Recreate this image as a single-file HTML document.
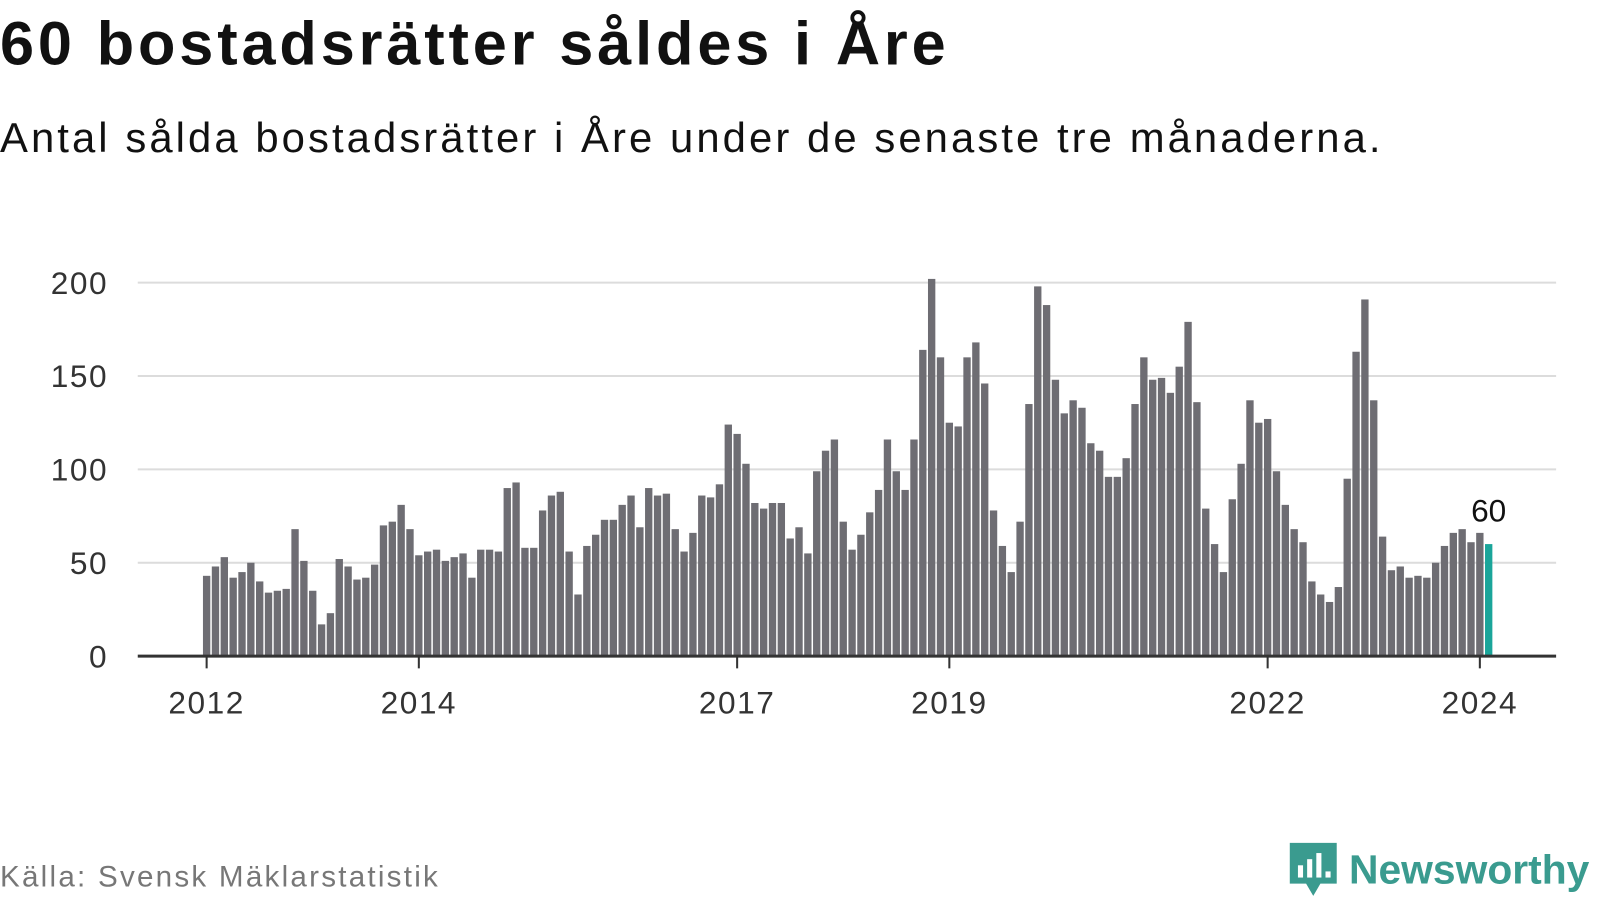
<!DOCTYPE html>
<html><head><meta charset="utf-8"><style>
body{margin:0;background:#fff;width:1600px;height:900px;overflow:hidden;font-family:"Liberation Sans",sans-serif}
#wrap{position:absolute;left:0;top:0;width:1600px;height:900px;transform:scale(1.0204);transform-origin:0 0}
#title{position:absolute;left:0;top:8px;font-size:60px;font-weight:bold;color:#111;margin:0;letter-spacing:3.8px}
#sub{position:absolute;left:0;top:112px;font-size:41px;color:#111;letter-spacing:3.0px}
#src{position:absolute;left:0;top:844px;font-size:29px;color:#777;letter-spacing:2.2px}
#logo{position:absolute;left:1262px;top:824px;display:flex;align-items:center}
#logo span{font-size:40px;font-weight:bold;color:#3a9b8f;margin-left:10px}
svg{position:absolute;left:0;top:0}
</style></head><body><div id="wrap">
<h1 id="title">60 bostadsrätter såldes i Åre</h1>
<div id="sub">Antal sålda bostadsrätter i Åre under de senaste tre månaderna.</div>
<svg id="chart" width="1600" height="900"></svg>
<div id="src">Källa: Svensk Mäklarstatistik</div>
<div id="logo">
<svg style="position:static" width="50" height="58" viewBox="0 0 50 58"><path d="M2 2h46v40H32l-7 12-7-12H2z" fill="#3a9b8f"/><rect x="10" y="24" width="5" height="12" fill="#fff"/><rect x="19" y="18" width="5" height="18" fill="#fff"/><rect x="28" y="12" width="5" height="24" fill="#fff"/><rect x="37" y="30" width="5" height="6" fill="#fff"/></svg>
<span>Newsworthy</span></div>
</div>
<script>
const values=[43,48,53,42,45,50,40,34,35,36,68,51,
35,17,23,52,48,41,42,49,70,72,81,68,
54,56,57,51,53,55,42,57,57,56,90,93,
58,58,78,86,88,56,33,59,65,73,73,81,
86,69,90,86,87,68,56,66,86,85,92,124,
119,103,82,79,82,82,63,69,55,99,110,116,
72,57,65,77,89,116,99,89,116,164,202,160,
125,123,160,168,146,78,59,45,72,135,198,188,
148,130,137,133,114,110,96,96,106,135,160,148,
149,141,155,179,136,79,60,45,84,103,137,125,
127,99,81,68,61,40,33,29,37,95,163,191,
137,64,46,48,42,43,42,50,59,66,68,61,
66,60];
const yTicks=[0,50,100,150,200];
const xTickYears=[2012,2014,2017,2019,2022,2024];
const lastLabel="60";
const svg=document.getElementById('chart');const NS='http://www.w3.org/2000/svg';
const x0=202.5,step=8.665,yBase=643,yPer=1.83;
const xs=i=>x0+i*step; const ys=v=>yBase-v*yPer;
function mk(t,a){const e=document.createElementNS(NS,t);for(const k in a)e.setAttribute(k,a[k]);svg.appendChild(e);return e;}
yTicks.forEach(v=>{
 if(v>0){const g=mk('line',{x1:135,x2:1525,y1:ys(v),y2:ys(v),stroke:'#dcdcdc','stroke-width':2});
 
 }
 const t=mk('text',{x:106,y:ys(v)+11,'text-anchor':'end','font-size':31,fill:'#333','letter-spacing':1.5});t.textContent=v;
 
 
});
values.forEach((v,i)=>{
 const last=i===values.length-1;
 const r=mk('rect',{x:xs(i)-3.6,y:ys(v),width:7.2,height:v*yPer,fill:last?'#1aa59a':'#6e6d73'});
 
 
});
const lb=mk('text',{x:xs(values.length-1),y:ys(values[values.length-1])-22,'text-anchor':'middle','font-size':31,fill:'#111'});lb.textContent=lastLabel;


const ax=mk('line',{x1:135,x2:1525,y1:yBase,y2:yBase,stroke:'#333','stroke-width':3});


xTickYears.forEach(y=>{const x=xs((y-2012)*12);
 const tk=mk('line',{x1:x,x2:x,y1:yBase,y2:yBase+12,stroke:'#333','stroke-width':2});
 
 
 const t=mk('text',{x:x,y:699,'text-anchor':'middle','font-size':31,fill:'#333','letter-spacing':1.5});t.textContent=y;
 
 
});
</script>
</body></html>
